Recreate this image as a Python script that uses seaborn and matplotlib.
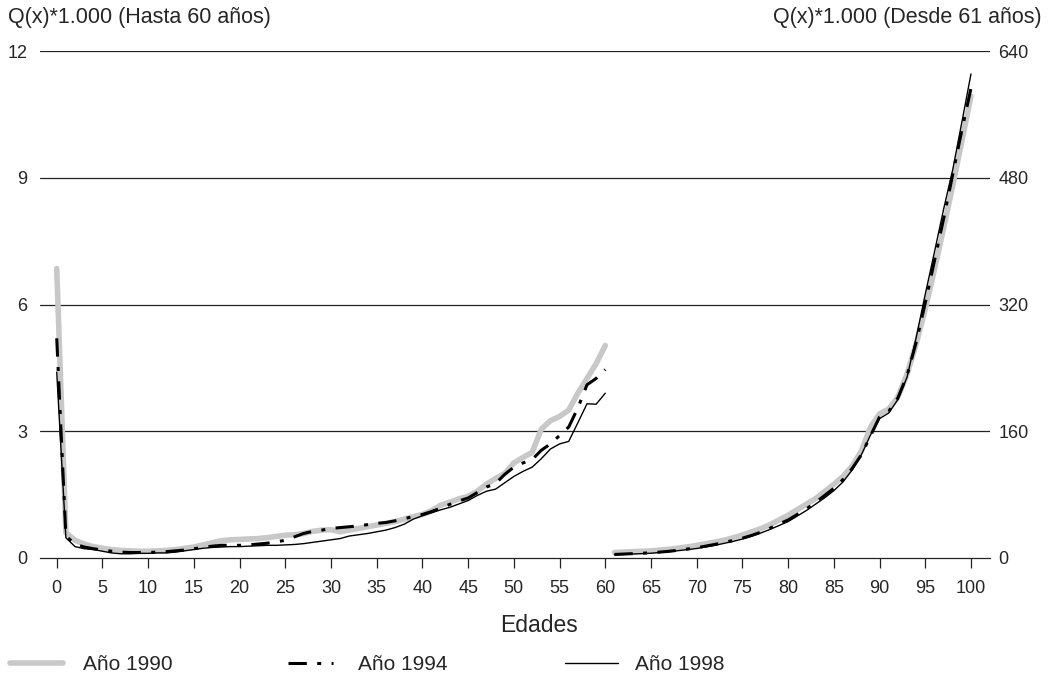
import numpy as np
import pandas as pd
import matplotlib
matplotlib.use("Agg")
import matplotlib.pyplot as plt
from matplotlib.lines import Line2D
import seaborn as sns

# ---------------- data ----------------
ages_young = list(range(0, 61))
ages_old = list(range(61, 101))

q1990_young = [6.85, 0.60, 0.42, 0.33, 0.27, 0.23, 0.20, 0.18, 0.17, 0.16,
               0.16, 0.17, 0.18, 0.20, 0.23, 0.26, 0.31, 0.36, 0.41, 0.43,
               0.44, 0.45, 0.46, 0.48, 0.51, 0.54, 0.55, 0.58, 0.63, 0.66,
               0.67, 0.62, 0.66, 0.70, 0.74, 0.78, 0.82, 0.86, 0.92, 0.98,
               1.03, 1.12, 1.25, 1.32, 1.40, 1.46, 1.58, 1.75, 1.88, 2.00,
               2.25, 2.38, 2.50, 3.05, 3.25, 3.35, 3.50, 3.90, 4.25, 4.60,
               5.03]
q1994_young = [5.20, 0.52, 0.33, 0.26, 0.22, 0.19, 0.16, 0.14, 0.13, 0.13,
               0.13, 0.14, 0.15, 0.17, 0.19, 0.22, 0.25, 0.28, 0.30, 0.30,
               0.30, 0.31, 0.33, 0.35, 0.38, 0.42, 0.50, 0.58, 0.63, 0.66,
               0.70, 0.72, 0.74, 0.76, 0.79, 0.82, 0.84, 0.88, 0.93, 0.98,
               1.03, 1.10, 1.18, 1.27, 1.35, 1.42, 1.55, 1.68, 1.76, 1.98,
               2.15, 2.25, 2.33, 2.55, 2.70, 2.90, 3.10, 3.55, 4.10, 4.25,
               4.46]
q1998_young = [4.40, 0.48, 0.27, 0.22, 0.20, 0.16, 0.12, 0.10, 0.10, 0.11,
               0.11, 0.12, 0.12, 0.14, 0.17, 0.20, 0.23, 0.25, 0.26, 0.27,
               0.27, 0.28, 0.29, 0.30, 0.30, 0.31, 0.32, 0.34, 0.37, 0.40,
               0.43, 0.46, 0.52, 0.55, 0.58, 0.62, 0.66, 0.72, 0.80, 0.92,
               1.00, 1.07, 1.14, 1.20, 1.28, 1.36, 1.48, 1.58, 1.63, 1.78,
               1.93, 2.05, 2.15, 2.35, 2.58, 2.70, 2.76, 3.20, 3.65, 3.64,
               3.90]

q1990_old = [7, 7.5, 8, 8.5, 9, 10, 11, 12.5, 14, 16,
             18, 20, 22.5, 25.5, 29, 33, 37, 42, 48, 54,
             61, 68, 75, 84, 93, 103, 116, 135, 165, 182,
             188, 203, 232, 270, 314, 364, 416, 470, 526, 583]
q1994_old = [4.5, 5, 5.5, 6, 6.5, 7.5, 8.5, 9.8, 11.3, 13,
             15, 17.2, 19.6, 22.2, 25, 28.5, 32.5, 37.5, 43, 48,
             55, 62, 70, 79, 88, 99, 113, 130, 154, 178,
             185, 202, 230, 272, 322, 375, 428, 484, 540, 593]
q1998_old = [4, 4.5, 5, 5.5, 6, 7, 8, 9.3, 10.6, 12,
             14, 16, 18.5, 21, 24, 27.5, 31.5, 36, 41, 46,
             53, 60, 68, 76, 85, 96, 111, 130, 155, 176,
             183, 200, 228, 278, 333, 386, 440, 490, 550, 611]

years = ["Año 1990", "Año 1994", "Año 1998"]
x_ticks = list(range(0, 101, 5))
left_ticks = [0, 3, 6, 9, 12]
right_ticks = [0, 160, 320, 480, 640]

# ---------------- styling ----------------
sns.set_style("white")
plt.rcParams['font.family'] = ['Liberation Sans', 'DejaVu Sans']

W, H = 1050, 677
styles = {
    "Año 1990": dict(color="#c8c8c8", linewidth=4.0, linestyle="-"),
    "Año 1994": dict(color="black", linewidth=2.2, linestyle=(0, (6.0, 3.4, 1.3, 3.4))),
    "Año 1998": dict(color="black", linewidth=1.0, linestyle="-"),
}

fig = plt.figure(figsize=(W / 100, H / 100), dpi=100)
ax_left, ax_right, ax_top, ax_bot = 40, 990, 51, 558
ax = fig.add_axes([ax_left / W, 1 - ax_bot / H, (ax_right - ax_left) / W, (ax_bot - ax_top) / H])
ax2 = ax.twinx()

young = {"Año 1990": q1990_young, "Año 1994": q1994_young, "Año 1998": q1998_young}
old = {"Año 1990": q1990_old, "Año 1994": q1994_old, "Año 1998": q1998_old}

for yr in years:
    sns.lineplot(x=ages_young, y=young[yr], ax=ax, **styles[yr])
    sns.lineplot(x=ages_old, y=old[yr], ax=ax2, **styles[yr])

ax.set_xlim(-1.83, 102.08)
ax.set_ylim(0, 12)
ax2.set_ylim(0, 640)
ax.set_xticks(x_ticks)
ax.set_yticks(left_ticks)
ax2.set_yticks(right_ticks)
ax.set_yticklabels([str(t) for t in left_ticks])
ax2.set_yticklabels([str(t) for t in right_ticks])

for a in (ax, ax2):
    for s in ("top", "left", "right", "bottom"):
        a.spines[s].set_visible(False)

ax.spines["bottom"].set_visible(True)
ax.spines["bottom"].set_color("#222222")
ax.spines["bottom"].set_linewidth(0.9)

for t in [3, 6, 9, 12]:
    ax.axhline(t, color="#222222", linewidth=0.9, zorder=0)

ax.tick_params(axis="x", direction="out", length=7, width=0.9, color="#222222",
               labelsize=13, pad=9, bottom=True)
ax.tick_params(axis="y", length=0, labelsize=13, pad=9)
ax2.tick_params(axis="y", length=0, labelsize=13, pad=6)

ax.set_xlabel("")
ax.set_ylabel("")
ax2.set_ylabel("")

fig.text(539 / W, 1 - 625 / H, "Edades", fontsize=16.5, ha="center", va="center")
fig.text(8 / W, 1 - 18 / H, "Q(x)*1.000 (Hasta 60 años)", fontsize=15.5,
         ha="left", va="center")
fig.text(1042 / W, 1 - 18 / H, "Q(x)*1.000 (Desde 61 años)", fontsize=15.5,
         ha="right", va="center")

# legend entries: (start x of handle in px, handle length in px, gap to text in px)
leg_pos = {"Año 1990": (10, 53, 20), "Año 1994": (288, 45, 25), "Año 1998": (565, 53, 17)}
fs_leg = 15
em = fs_leg * 100 / 72
for yr in years:
    x0, hl, gap = leg_pos[yr]
    h = Line2D([0], [0], **styles[yr])
    fig.legend([h], [yr], loc="center left", bbox_to_anchor=(x0 / W, 1 - 665 / H),
               frameon=False, fontsize=fs_leg, handlelength=hl / em,
               handletextpad=gap / em, borderpad=0, borderaxespad=0)

fig.savefig("out.png", dpi=100)
